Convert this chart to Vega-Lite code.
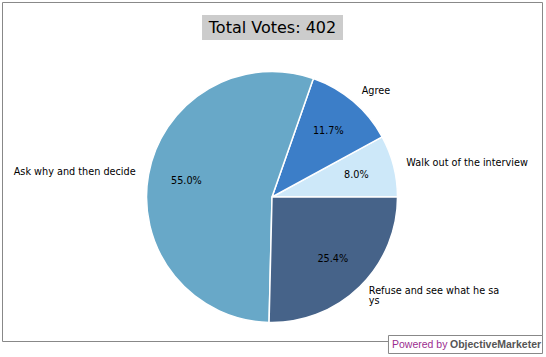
{
  "$schema": "https://vega.github.io/schema/vega-lite/v6.json",
  "width": 546,
  "height": 357,
  "autosize": {"type": "fit", "contains": "padding"},
  "padding": 0,
  "background": "white",
  "config": {"view": {"stroke": null}, "font": "DejaVu Sans"},
  "data": {
    "values": [
      {"idx": 1, "answer": "Walk out of the interview", "votes": 32, "pct": "8.0%"},
      {"idx": 2, "answer": "Agree", "votes": 47, "pct": "11.7%"},
      {"idx": 3, "answer": "Ask why and then decide", "votes": 221, "pct": "55.0%"},
      {"idx": 4, "answer": "Refuse and see what he sa\nys", "votes": 102, "pct": "25.4%"}
    ]
  },
  "layer": [
    {
      "data": {"values": [{}]},
      "mark": {"type": "rect", "fill": null, "stroke": "#888888", "strokeWidth": 1},
      "encoding": {
        "x": {"datum": 0.0046, "type": "quantitative", "scale": {"domain": [0, 1], "nice": false, "zero": false}, "axis": null},
        "x2": {"datum": 0.9936},
        "y": {"datum": 0.0070, "type": "quantitative", "scale": {"domain": [0, 1], "nice": false, "zero": false, "reverse": true}, "axis": null},
        "y2": {"datum": 0.9566}
      }
    },
    {
      "mark": {"type": "arc", "radius": 125.5, "stroke": "white", "strokeWidth": 1.5},
      "encoding": {
        "x": {"datum": 0.4982, "type": "quantitative"},
        "y": {"datum": 0.5518, "type": "quantitative"},
        "theta": {"field": "votes", "type": "quantitative", "stack": true, "scale": {"range": [1.5708, -4.7124]}},
        "order": {"field": "idx", "type": "quantitative"},
        "color": {
          "field": "answer",
          "type": "nominal",
          "scale": {
            "domain": ["Walk out of the interview", "Agree", "Ask why and then decide", "Refuse and see what he sa\nys"],
            "range": ["#cde8f9", "#3c7ec8", "#68a8c8", "#466389"]
          },
          "legend": null
        }
      }
    },
    {
      "mark": {"type": "text", "fontSize": 9.7, "fontWeight": "normal", "color": "#000000", "baseline": "middle", "align": "center"},
      "encoding": {
        "x": {"datum": 0.4982, "type": "quantitative"},
        "y": {"datum": 0.5518, "type": "quantitative"},
        "theta": {"field": "votes", "type": "quantitative", "stack": true},
        "order": {"field": "idx", "type": "quantitative"},
        "radius": {"value": 87},
        "text": {"field": "pct"}
      }
    },
    {
      "mark": {
        "type": "text",
        "fontSize": 9.7,
        "fontWeight": "normal",
        "color": "#000000",
        "baseline": "middle",
        "lineBreak": "\n",
        "lineHeight": 10,
        "dy": {"expr": "indexof(datum.answer, '\\n') >= 0 ? -5 : 0"},
        "align": {"expr": "(datum.votes_start + datum.votes_end) / 804 > 0.25 && (datum.votes_start + datum.votes_end) / 804 < 0.75 ? 'right' : 'left'"}
      },
      "encoding": {
        "x": {"datum": 0.4982, "type": "quantitative"},
        "y": {"datum": 0.5518, "type": "quantitative"},
        "theta": {"field": "votes", "type": "quantitative", "stack": true},
        "order": {"field": "idx", "type": "quantitative"},
        "radius": {"value": 138.6},
        "text": {"field": "answer"}
      }
    },
    {
      "data": {"values": [{}]},
      "mark": {"type": "rect", "fill": "#cccccc"},
      "encoding": {
        "x": {"datum": 0.3700, "type": "quantitative"},
        "x2": {"datum": 0.6282},
        "y": {"datum": 0.0420, "type": "quantitative"},
        "y2": {"datum": 0.1120}
      }
    },
    {
      "data": {"values": [{}]},
      "mark": {"type": "text", "fontSize": 16, "fontWeight": "normal", "color": "#000000", "align": "center", "baseline": "middle"},
      "encoding": {
        "x": {"datum": 0.4991, "type": "quantitative"},
        "y": {"datum": 0.0784, "type": "quantitative"},
        "text": {"value": "Total Votes: 402"}
      }
    },
    {
      "data": {"values": [{}]},
      "mark": {"type": "rect", "fill": "white", "stroke": "#888888", "strokeWidth": 1},
      "encoding": {
        "x": {"datum": 0.7115, "type": "quantitative"},
        "x2": {"datum": 0.9936},
        "y": {"datum": 0.9398, "type": "quantitative"},
        "y2": {"datum": 0.9902}
      }
    },
    {
      "data": {"values": [{}]},
      "mark": {"type": "text", "font": "Liberation Sans", "fontSize": 10.5, "fontWeight": "normal", "color": "#9b2d8f", "align": "left", "baseline": "middle"},
      "encoding": {
        "x": {"datum": 0.7179, "type": "quantitative"},
        "y": {"datum": 0.9664, "type": "quantitative"},
        "text": {"value": "Powered by"}
      }
    },
    {
      "data": {"values": [{}]},
      "mark": {"type": "text", "font": "Liberation Sans", "fontSize": 10.5, "fontWeight": "bold", "color": "#555555", "align": "left", "baseline": "middle"},
      "encoding": {
        "x": {"datum": 0.8242, "type": "quantitative"},
        "y": {"datum": 0.9664, "type": "quantitative"},
        "text": {"value": "ObjectiveMarketer"}
      }
    }
  ]
}
